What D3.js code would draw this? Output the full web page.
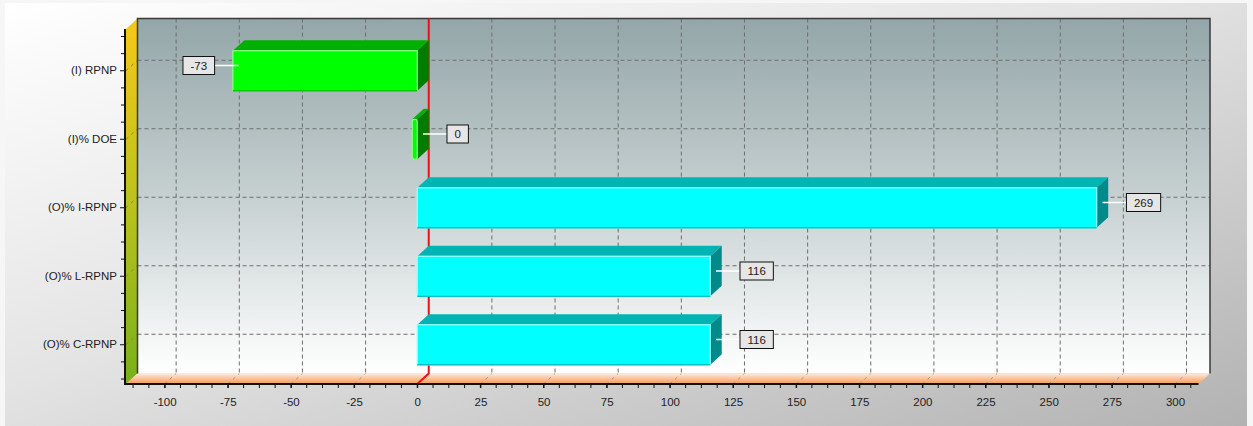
<!DOCTYPE html>
<html>
<head>
<meta charset="utf-8">
<script src="https://cdn.jsdelivr.net/npm/d3@7"></script>
<style>
  html, body { margin: 0; padding: 0; background: #f6f6f6; }
  svg { display: block; }
  text { font-family: "Liberation Sans", Arial, sans-serif; font-size: 11.5px; fill: #222; }
</style>
</head>
<body>
<svg id="chart" width="1253" height="426"></svg>
<script>
// ---- data ----
const categories = ["(I) RPNP", "(I)% DOE", "(O)% I-RPNP", "(O)% L-RPNP", "(O)% C-RPNP"];
const values = [-73, 0, 269, 116, 116];
const groups = ["I", "I", "O", "O", "O"];
const xTickValues = [-100, -75, -50, -25, 0, 25, 50, 75, 100, 125, 150, 175, 200, 225, 250, 275, 300];

// ---- layout ----
const W = 1253, H = 426;
const front = { left: 126, right: 1198.5, top: 29, bottom: 384 };
const depth = { dx: 11.5, dy: 10.5 };
const back = {
  left: front.left + depth.dx, right: front.right + depth.dx,
  top: front.top - depth.dy, bottom: front.bottom - depth.dy
};

const palette = {
  I: { front: "#00ff00", rim: "#8cff8c", edge: "#00c400", top: "#00b000", side: "#007d00" },
  O: { front: "#00ffff", rim: "#9affff", edge: "#00c4c4", top: "#00b4b4", side: "#008a8a" }
};

// plain hyphen-minus for negative numbers
const fmt = v => String(v);

const svg = d3.select("#chart");
const defs = svg.append("defs");

function linGrad(id, x1, y1, x2, y2, stops) {
  const g = defs.append("linearGradient").attr("id", id)
    .attr("x1", x1).attr("y1", y1).attr("x2", x2).attr("y2", y2);
  stops.forEach(([o, c]) => g.append("stop").attr("offset", o).attr("stop-color", c));
}
linGrad("panelGrad", 0, 0, 1, 1, [[0, "#ffffff"], [0.45, "#e4e4e4"], [1, "#b2b2b2"]]);
linGrad("wallGrad", 0, 0, 0, 1, [[0, "#94a6a9"], [0.5, "#c6d0d1"], [1, "#ffffff"]]);
linGrad("sideGrad", 0, 0, 0, 1, [[0, "#f6c81a"], [0.5, "#bcc21e"], [1, "#78b01c"]]);
linGrad("floorGrad", 0, 0, 0, 1, [[0, "#fdeadc"], [1, "#f39a58"]]);

// ---- scales ----
const x = d3.scaleLinear().domain([-115.3, 309.3]).range([front.left, front.right]);
const y = d3.scaleBand().domain(categories).range([36.5, 379]).padding(0);
const barH = y.step() * 0.584;
const cy = d => y(d) + y.bandwidth() / 2;

// ---- panel background ----
svg.append("rect").attr("x", 5).attr("y", 3).attr("width", 1242).attr("height", H - 3)
  .attr("fill", "url(#panelGrad)");

// ---- back wall, side wall, floor ----
svg.append("rect").attr("x", back.left).attr("y", back.top)
  .attr("width", back.right - back.left).attr("height", back.bottom - back.top)
  .attr("fill", "url(#wallGrad)");

svg.append("polygon")
  .attr("points", [[front.left, front.top], [back.left, back.top], [back.left, back.bottom], [front.left, front.bottom]].join(" "))
  .attr("fill", "url(#sideGrad)");

svg.append("polygon")
  .attr("points", [[front.left, front.bottom], [back.left, back.bottom], [back.right, back.bottom], [front.right, front.bottom]].join(" "))
  .attr("fill", "url(#floorGrad)");

// ---- grid ----
const grid = svg.append("g").attr("stroke", "#6e6e6e").attr("stroke-width", 1)
  .attr("stroke-dasharray", "4,3").attr("fill", "none");

grid.selectAll(".vgrid").data(xTickValues.filter(v => v !== 0)).join("line")
  .attr("x1", d => x(d) + depth.dx).attr("x2", d => x(d) + depth.dx)
  .attr("y1", back.top).attr("y2", back.bottom);

grid.selectAll(".hgrid").data(categories).join("line")
  .attr("x1", back.left).attr("x2", back.right)
  .attr("y1", d => cy(d) - depth.dy).attr("y2", d => cy(d) - depth.dy);

grid.selectAll(".fgrid").data(xTickValues.filter(v => v !== 0)).join("line")
  .attr("stroke", "#999").attr("stroke-dasharray", "3,4")
  .attr("x1", d => x(d)).attr("y1", front.bottom)
  .attr("x2", d => x(d) + depth.dx).attr("y2", back.bottom);

grid.selectAll(".sgrid").data(categories).join("line")
  .attr("stroke", "#8a8a40").attr("stroke-dasharray", "3,4")
  .attr("x1", front.left).attr("y1", d => cy(d))
  .attr("x2", back.left).attr("y2", d => cy(d) - depth.dy);

// ---- wall frame ----
svg.append("path")
  .attr("d", `M${back.left},${back.bottom} L${back.left},${back.top} L${back.right},${back.top} L${back.right},${back.bottom}`)
  .attr("fill", "none").attr("stroke", "#3a3a3a").attr("stroke-width", 1.5);

// ---- zero line ----
svg.append("path")
  .attr("d", `M${x(0) + depth.dx},${back.top} L${x(0) + depth.dx},${back.bottom} L${x(0)},${front.bottom}`)
  .attr("fill", "none").attr("stroke", "#ee1111").attr("stroke-width", 2);

// ---- bars ----
const rows = categories.map((c, i) => ({ cat: c, value: values[i], group: groups[i] }));
const bars = svg.append("g").selectAll("g").data(rows).join("g");

bars.each(function (d) {
  const g = d3.select(this);
  const col = palette[d.group];
  const c = cy(d.cat);
  let xa = x(Math.min(0, d.value)), xb = x(Math.max(0, d.value));
  if (d.value === 0) xa = xb - 5;
  const t = c - barH / 2, b = c + barH / 2;
  const { dx, dy } = depth;

  // top face
  g.append("polygon")
    .attr("points", [[xa, t], [xb, t], [xb + dx, t - dy], [xa + dx, t - dy]].join(" "))
    .attr("fill", col.top);
  // end face
  g.append("polygon")
    .attr("points", [[xb, t], [xb + dx, t - dy], [xb + dx, b - dy], [xb, b]].join(" "))
    .attr("fill", col.side);
  // front face
  g.append("rect")
    .attr("x", xa).attr("y", t).attr("width", xb - xa).attr("height", barH)
    .attr("rx", d.value === 0 ? 2.5 : 0)
    .attr("fill", col.front).attr("stroke", col.rim).attr("stroke-width", 1.2);
  if (d.value !== 0) {
    g.append("line").attr("x1", xa).attr("x2", xb).attr("y1", b).attr("y2", b)
      .attr("stroke", col.edge).attr("stroke-width", 1.5);
  }
});

// ---- value labels ----
bars.each(function (d) {
  const g = d3.select(this);
  const c = cy(d.cat);
  const end = x(d.value);
  const ax = end + depth.dx / 2, ay = c - depth.dy / 2;
  const dir = d.value < 0 ? -1 : 1;
  const lx = ax + dir * 24;
  g.append("line").attr("x1", ax).attr("x2", lx).attr("y1", ay).attr("y2", ay)
    .attr("stroke", "#ffffff").attr("stroke-width", 1.5);
  const txt = g.append("text").text(fmt(d.value)).attr("text-anchor", "middle")
    .attr("dy", "0.35em").attr("y", ay);
  const tw = txt.node().getComputedTextLength();
  const bw = tw + 15, bh = 18;
  const bx = dir < 0 ? lx - bw : lx;
  g.insert("rect", "text").attr("x", bx).attr("y", ay - bh / 2).attr("width", bw).attr("height", bh)
    .attr("fill", "#e6e6e6").attr("stroke", "#111").attr("stroke-width", 1);
  txt.attr("x", bx + bw / 2);
});

// ---- axes ----
const xAxis = d3.axisBottom(x).tickValues(xTickValues).tickSize(4).tickPadding(10)
  .tickFormat(fmt);
const gx = svg.append("g").attr("transform", `translate(0,${front.bottom})`).call(xAxis);
gx.select(".domain").remove();
gx.selectAll("text").style("font-size", "11.5px").attr("fill", "#222");
gx.selectAll(".tick line").attr("stroke", "#111");

// minor ticks on the value axis
svg.append("g").selectAll("line").data(d3.range(-112.5, 309, 6.25)).join("line")
  .attr("x1", d => x(d)).attr("x2", d => x(d))
  .attr("y1", front.bottom).attr("y2", front.bottom + 4)
  .attr("stroke", "#111");

const yAxis = d3.axisLeft(y).tickSize(5).tickPadding(3);
const gy = svg.append("g").attr("transform", `translate(${front.left - 1},0)`).call(yAxis);
gy.select(".domain").remove();
gy.selectAll("text").style("font-size", "11.5px").attr("fill", "#222");
gy.selectAll(".tick line").attr("stroke", "#111");

// minor ticks on the category axis
const yMinor = [];
categories.forEach(c => { [-0.5, -0.25, 0.25].forEach(f => yMinor.push(cy(c) + f * y.step())); });
yMinor.push(cy(categories[categories.length - 1]) + 0.5 * y.step());
svg.append("g").selectAll("line").data(yMinor).join("line")
  .attr("x1", front.left - 1).attr("x2", front.left - 5)
  .attr("y1", d => d).attr("y2", d => d).attr("stroke", "#111");

// axis lines
svg.append("path")
  .attr("d", `M${front.left - 1},${front.top} L${front.left - 1},${front.bottom} L${front.right},${front.bottom}`)
  .attr("fill", "none").attr("stroke", "#111").attr("stroke-width", 2);
</script>
</body>
</html>
